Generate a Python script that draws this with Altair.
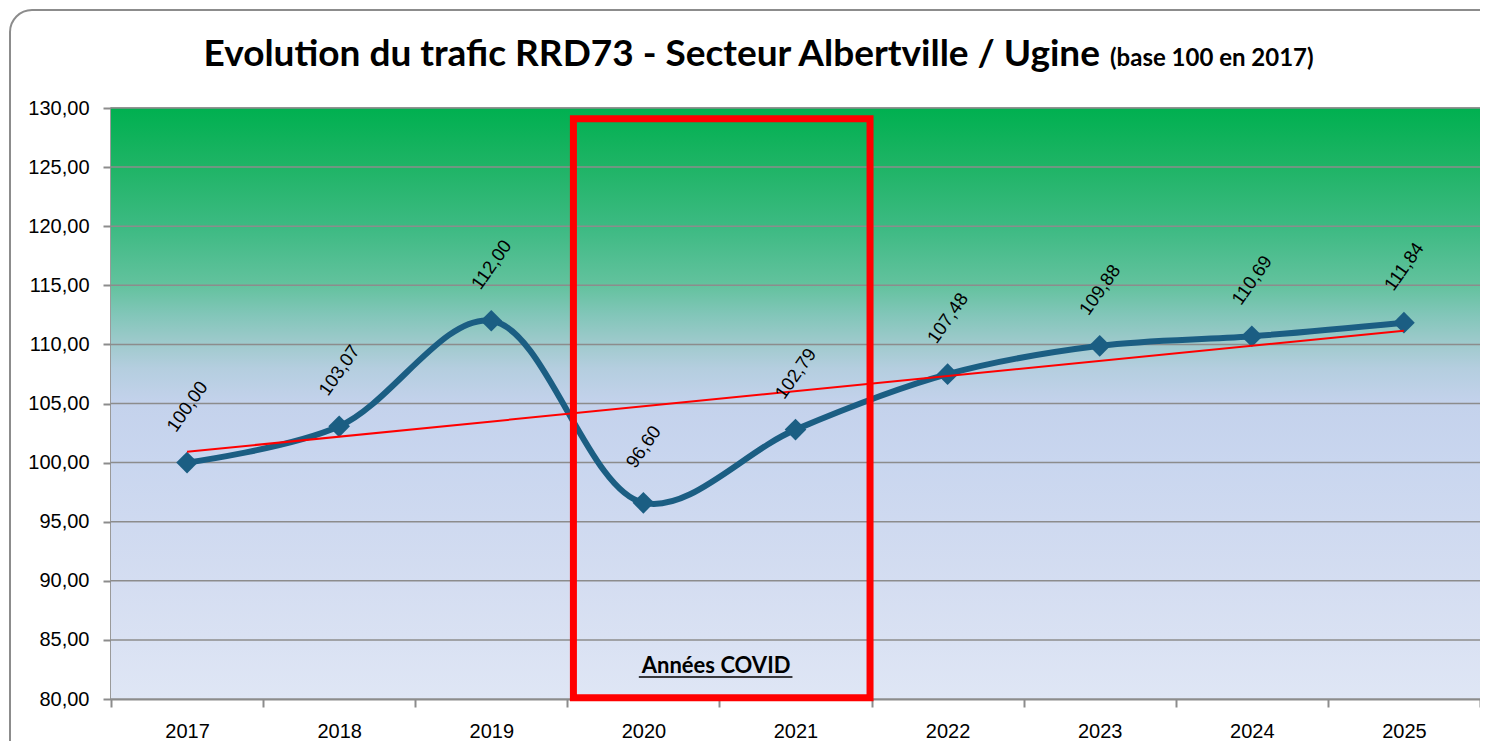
import altair as alt
import pandas as pd

# ---- data ----
years = [2017, 2018, 2019, 2020, 2021, 2022, 2023, 2024, 2025]
values = [100.00, 103.07, 112.00, 96.60, 102.79, 107.48, 109.88, 110.69, 111.84]
y_ticks = [80, 85, 90, 95, 100, 105, 110, 115, 120, 125, 130]
x_bounds = [2016.5, 2017.5, 2018.5, 2019.5, 2020.5, 2021.5, 2022.5, 2023.5, 2024.5, 2025.5]
covid_x = [2019.54, 2021.49]
covid_y = [80.1, 129.1]
covid_label = ["Années COVID"]
covid_label_xy = [2020.478, 82.75]
covid_underline = [2019.97, 2020.98, 81.86]
title_main = ["Evolution du trafic RRD73 - Secteur Albertville / Ugine"]
title_sub = ["(base 100 en 2017)"]

W, H = 1369, 591
BLUE = "#1B5E83"
GRAY = "#8c8c8c"
FONT = "Liberation Sans"
TFONT = "Lato"

df = pd.DataFrame({"year": years, "value": values})
df["label"] = [f"{v:.2f}".replace(".", ",") for v in values]

xscale = alt.Scale(domain=[x_bounds[0], x_bounds[-1]], nice=False, zero=False)
yscale = alt.Scale(domain=[y_ticks[0], y_ticks[-1]], nice=False, zero=False)

xaxis = alt.Axis(
    values=x_bounds,
    labelExpr="datum.value < 2025 ? format(datum.value + 0.5, 'd') : ''",
    labelOffset=W / 18,
    labelFlush=False,
    labelOverlap=False,
    grid=False,
    tickSize=8, tickColor=GRAY, tickWidth=2,
    domainColor=GRAY, domainWidth=2,
    labelFont=FONT, labelFontSize=20, labelColor="black", labelPadding=14,
    title=None,
)
yaxis = alt.Axis(
    values=y_ticks,
    labelExpr="replace(format(datum.value, '.2f'), '.', ',')",
    grid=False,
    tickSize=8, tickColor=GRAY, tickWidth=2,
    domainColor=GRAY, domainWidth=2,
    labelFont=FONT, labelFontSize=20, labelColor="black", labelPadding=14,
    title=None,
)

X = alt.X("year:Q", scale=xscale, axis=xaxis)
Y = alt.Y("value:Q", scale=yscale, axis=yaxis)

grad = alt.Gradient(
    gradient="linear", x1=0, y1=0, x2=0, y2=1,
    stops=[
        alt.GradientStop(color="#00B050", offset=0.0),
        alt.GradientStop(color="#1FB466", offset=0.1),
        alt.GradientStop(color="#3CBA82", offset=0.2),
        alt.GradientStop(color="#63C29E", offset=0.3),
        alt.GradientStop(color="#82C6B9", offset=0.35),
        alt.GradientStop(color="#A0CACD", offset=0.4),
        alt.GradientStop(color="#B4CEDF", offset=0.44),
        alt.GradientStop(color="#C4D2EC", offset=0.5),
        alt.GradientStop(color="#C9D6EF", offset=0.6),
        alt.GradientStop(color="#D4DDF1", offset=0.8),
        alt.GradientStop(color="#DFE6F5", offset=1.0),
    ],
)

bg_df = pd.DataFrame({"x": [x_bounds[0]], "x2": [x_bounds[-1]], "y": [y_ticks[0]], "y2": [y_ticks[-1]]})
bg = alt.Chart(bg_df).mark_rect(color=grad).encode(
    x=alt.X("x:Q", scale=xscale, axis=xaxis), x2="x2:Q",
    y=alt.Y("y:Q", scale=yscale, axis=yaxis), y2="y2:Q",
)

grid = alt.Chart(pd.DataFrame({"g": y_ticks})).mark_rule(color=GRAY, strokeWidth=1.5).encode(
    y=alt.Y("g:Q", scale=yscale)
)

base = alt.Chart(df)

trend = base.transform_regression("year", "value").mark_line(
    color="#FF0000", strokeWidth=2
).encode(x=X, y=Y)

line = base.mark_line(interpolate="catmull-rom", color=BLUE, strokeWidth=6).encode(x=X, y=Y)
pts = base.mark_point(shape="diamond", filled=True, size=470, color=BLUE, opacity=1).encode(x=X, y=Y)

labels = base.mark_text(
    angle=305, align="center", baseline="middle", dx=46, dy=-32,
    font=FONT, fontSize=18.5, color="black"
).encode(x=X, y=Y, text="label:N")

covid_df = pd.DataFrame({"x": [covid_x[0]], "x2": [covid_x[1]], "y": [covid_y[0]], "y2": [covid_y[1]]})
covid_rect = alt.Chart(covid_df).mark_rect(fillOpacity=0, stroke="#FF0000", strokeWidth=7).encode(
    x=alt.X("x:Q", scale=xscale), x2="x2:Q", y=alt.Y("y:Q", scale=yscale), y2="y2:Q"
)
covid_txt = alt.Chart(pd.DataFrame({"t": covid_label, "x": [covid_label_xy[0]], "y": [covid_label_xy[1]]})).mark_text(
    font=TFONT, fontSize=22, fontWeight="bold", color="black", baseline="middle", align="center"
).encode(x=alt.X("x:Q", scale=xscale), y=alt.Y("y:Q", scale=yscale), text="t:N")
covid_ul = alt.Chart(pd.DataFrame({"x": [covid_underline[0]], "x2": [covid_underline[1]], "y": [covid_underline[2]]})).mark_rule(
    color="black", strokeWidth=1.5
).encode(x=alt.X("x:Q", scale=xscale), x2="x2:Q", y=alt.Y("y:Q", scale=yscale))

t1 = alt.Chart(pd.DataFrame({"t": title_main})).mark_text(
    align="right", baseline="alphabetic", font=TFONT, fontSize=37, fontWeight="bold", color="black"
).encode(text="t:N", x=alt.value(989), y=alt.value(-42))
t2 = alt.Chart(pd.DataFrame({"t": title_sub})).mark_text(
    align="left", baseline="alphabetic", font=TFONT, fontSize=24, fontWeight="bold", color="black"
).encode(text="t:N", x=alt.value(999), y=alt.value(-42))

border = alt.Chart(pd.DataFrame({"t": [0]})).mark_rect(
    cornerRadius=22, fillOpacity=0, stroke=GRAY, strokeWidth=2
).encode(x=alt.value(-101), x2=alt.value(W + 40), y=alt.value(-98), y2=alt.value(H + 70))

chart = alt.layer(
    bg, grid, line, pts, trend, labels, covid_rect, covid_txt, covid_ul, t1, t2, border
).properties(
    width=W, height=H,
    padding={"left": 103, "top": 100, "right": 0, "bottom": 42},
    autosize="none",
    background="white",
).configure_view(stroke=GRAY, strokeWidth=1.5)

chart.save("out.html", embed_options={"renderer": "svg", "actions": False})
